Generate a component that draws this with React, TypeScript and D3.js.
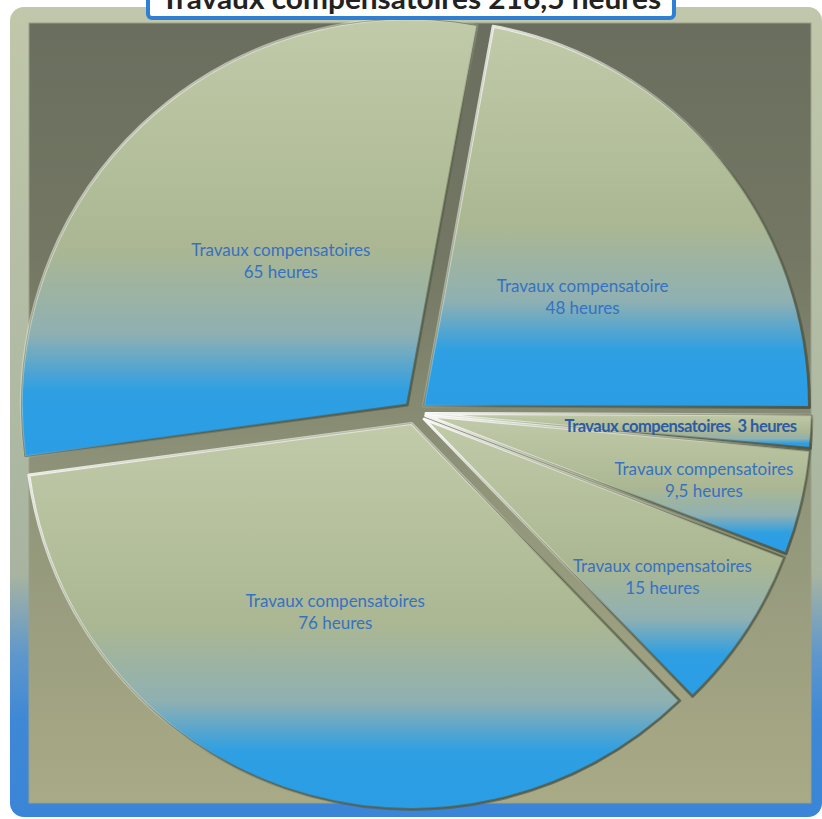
import React from 'react';
import * as d3 from 'd3';

const title = 'Travaux compensatoires 216,5 heures';
const categories = [
  'Travaux compensatoire',
  'Travaux compensatoires',
  'Travaux compensatoires',
  'Travaux compensatoires',
  'Travaux compensatoires',
  'Travaux compensatoires',
];
const values = [48, 3, 9.5, 15, 76, 65];
const valueLabels = ['48 heures', '3 heures', '9,5 heures', '15 heures', '76 heures', '65 heures'];

const W = 822;
const H = 819;
const CX = 415;
const CY = 413;
const R = 386;
const EXPLODE = 11;
const START_DEG = 10.4;

export default function App() {
  const pie = d3
    .pie<number>()
    .sort(null)
    .value((d) => d)
    .startAngle((START_DEG * Math.PI) / 180)
    .endAngle((START_DEG * Math.PI) / 180 + 2 * Math.PI);
  const arcs = pie(values);
  const arcGen = d3.arc<d3.PieArcDatum<number>>().innerRadius(0).outerRadius(R);

  const labelFont = 'Lato, "Open Sans", sans-serif';

  return (
    <div style={{ position: 'absolute', left: 0, top: 0 }}>
      <svg width={W} height={H} style={{ display: 'block' }}>
        <defs>
          <linearGradient id="frameGrad" x1="0" y1="0" x2="0" y2="1">
            <stop offset="0" stopColor="#c0c7aa" />
            <stop offset="0.7" stopColor="#a8b4a0" />
            <stop offset="0.8" stopColor="#5f97cc" />
            <stop offset="0.88" stopColor="#3e88d5" />
            <stop offset="1" stopColor="#3a85d7" />
          </linearGradient>
          <linearGradient id="plotGrad" x1="0" y1="0" x2="0" y2="1">
            <stop offset="0" stopColor="#6a6e5e" />
            <stop offset="0.3" stopColor="#737763" />
            <stop offset="0.6" stopColor="#90957a" />
            <stop offset="1" stopColor="#a9aa86" />
          </linearGradient>
          <linearGradient id="sliceGrad" x1="0" y1="0" x2="0" y2="1">
            <stop offset="0" stopColor="#c1caa9" />
            <stop offset="0.52" stopColor="#abb792" />
            <stop offset="0.72" stopColor="#8fb0b2" />
            <stop offset="0.85" stopColor="#2e9fe2" />
            <stop offset="1" stopColor="#2a9de6" />
          </linearGradient>
          <linearGradient id="bevelGrad" x1="0" y1="0" x2="1" y2="1">
            <stop offset="0" stopColor="#ffffff" stopOpacity="0.95" />
            <stop offset="0.45" stopColor="#e8eedc" stopOpacity="0.35" />
            <stop offset="0.6" stopColor="#59604b" stopOpacity="0.35" />
            <stop offset="1" stopColor="#4d5442" stopOpacity="0.9" />
          </linearGradient>
        </defs>

        {/* outer frame */}
        <rect x={10} y={7} width={812} height={810} rx={14} fill="url(#frameGrad)" />
        {/* plot area */}
        <rect x={29} y={23} width={782} height={780} fill="url(#plotGrad)" stroke="#9aa08a" strokeWidth={1} />

        {/* slices */}
        {arcs.map((a, i) => {
          const mid = (a.startAngle + a.endAngle) / 2;
          const dx = Math.sin(mid) * EXPLODE;
          const dy = -Math.cos(mid) * EXPLODE;
          return (
            <g key={i} transform={`translate(${CX + dx},${CY + dy})`}>
              <path d={arcGen(a) as string} fill="url(#sliceGrad)" stroke="#5b624d" strokeWidth={1} />
              <path
                d={arcGen(a) as string}
                fill="none"
                stroke="url(#bevelGrad)"
                strokeWidth={3}
                strokeLinejoin="round"
              />
            </g>
          );
        })}

        {/* labels */}
        {arcs.map((a, i) => {
          const mid = (a.startAngle + a.endAngle) / 2 + (a.endAngle - a.startAngle > 1 ? 0.06 : 0);
          const span = a.endAngle - a.startAngle;
          const tiny = span < 0.12;
          const frac = span > 1 ? 0.51 : tiny ? 0.66 : 0.74;
          const dx = Math.sin(mid) * (EXPLODE + R * frac);
          const dy = -Math.cos(mid) * (EXPLODE + R * frac);
          const x = CX + dx;
          const y = CY + dy + (span > 1 ? 7 : 0);
          if (tiny) {
            return (
              <text
                key={i}
                x={x}
                y={y + 6}
                textAnchor="middle"
                fontFamily={labelFont}
                fontSize={16.5}
                fontWeight={700}
                fill="#2c5ca4"
                letterSpacing={-0.5}
              >
                {categories[i] + '\u00a0\u00a0' + valueLabels[i]}
              </text>
            );
          }
          return (
            <g key={i} fontFamily={labelFont} fontSize={17} fill="#3671c2" textAnchor="middle">
              <text x={x} y={y - 5}>{categories[i]}</text>
              <text x={x} y={y + 17}>{valueLabels[i]}</text>
            </g>
          );
        })}

        {/* title box */}
        <rect x={148} y={-20} width={526} height={38} rx={4} fill="#ffffff" stroke="#2f7fd3" strokeWidth={4} />
        <rect x={152} y={-20} width={518} height={32} rx={2} fill="none" stroke="#ffffff" strokeWidth={1} />
        <text
          x={411}
          y={8.5}
          textAnchor="middle"
          fontFamily={labelFont}
          fontWeight={700}
          fontSize={28}
          fill="#222222"
          textLength={500}
          lengthAdjust="spacingAndGlyphs"
        >
          {title}
        </text>
      </svg>
    </div>
  );
}
